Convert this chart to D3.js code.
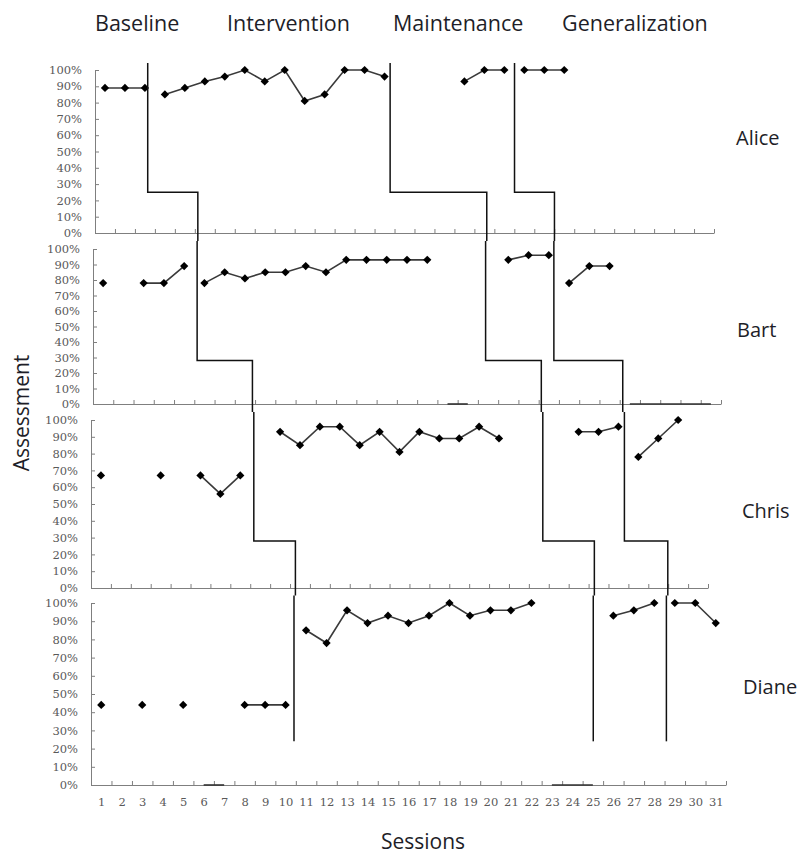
<!DOCTYPE html>
<html>
<head>
<meta charset="utf-8">
<script src="https://cdn.jsdelivr.net/npm/d3@7"></script>
<style>
  body { margin: 0; background: #fff; }
  text { font-family: "Open Sans", sans-serif; }
</style>
</head>
<body>
<svg id="chart" width="803" height="856"></svg>
<script>

// ---- data ----
const sessions = d3.range(1, 32)
const yTicks = d3.range(0, 101, 10)
const phaseNames = ["Baseline", "Intervention", "Maintenance", "Generalization"]
const students = ["Alice", "Bart", "Chris", "Diane"]

// first session of each phase, then the scores in that phase (null = no session)
const aliceStarts = [1, 4, 19, 22]
const aliceScores = [
  [89, 89, 89],
  [85, 89, 93, 96, 100, 93, 100, 81, 85, 100, 100, 96],
  [93, 100, 100],
  [100, 100, 100]
]
const bartStarts = [1, 6, 21, 24]
const bartScores = [
  [78, null, 78, 78, 89],
  [78, 85, 81, 85, 85, 89, 85, 93, 93, 93, 93, 93],
  [93, 96, 96],
  [78, 89, 89]
]
const chrisStarts = [1, 10, 25, 28]
const chrisScores = [
  [67, null, null, 67, null, 67, 56, 67],
  [93, 85, 96, 96, 85, 93, 81, 93, 89, 89, 96, 89],
  [93, 93, 96],
  [78, 89, 100]
]
const dianeStarts = [1, 11, 26, 29]
const dianeScores = [
  [44, null, 44, null, 44, null, null, 44, 44, 44],
  [85, 78, 96, 89, 93, 89, 93, 100, 93, 96, 96, 100],
  [93, 96, 100],
  [100, 100, 89]
]

// runs of sessions plotted at 0% (line only, no markers)
const aliceZeroRuns = []
const bartZeroRuns = [[18, 19], [27, 31]]
const chrisZeroRuns = []
const dianeZeroRuns = [[6, 7], [23, 25]]

// phase change lines: [session where line comes in, level %, session where it leaves]
const aliceSteps = [[3.14, 25, 5.65], [15.28, 25, 20.12], [21.51, 25, 23.51]]
const bartSteps = [[5.64, 28, 8.37], [19.88, 28, 22.63], [23.25, 28, 26.65]]
const chrisSteps = [[8.68, 28, 10.77], [23.2, 28, 25.79], [27.3, 28, 29.48]]
const dianeSteps = [[10.41, 24, null], [25.02, 24, null], [28.59, 24, null]]

const allStarts = [aliceStarts, bartStarts, chrisStarts, dianeStarts]
const allScores = [aliceScores, bartScores, chrisScores, dianeScores]
const allZeroRuns = [aliceZeroRuns, bartZeroRuns, chrisZeroRuns, dianeZeroRuns]
const allSteps = [aliceSteps, bartSteps, chrisSteps, dianeSteps]

// ---- layout ----
function getConfig() {
  let svg = d3.select("#chart")
  // pixel box of each panel: x range of the 31 sessions, y of 0% and 100%
  let panels = [
    { left: 95, right: 714, bottom: 233, top: 70 },
    { left: 93, right: 721, bottom: 404, top: 249 },
    { left: 91, right: 708, bottom: 588, top: 420 },
    { left: 91, right: 726, bottom: 785, top: 603 }
  ]
  let nameX = [736, 737, 742, 743]
  let nameY = [145, 337, 518, 694]
  let phaseX = [95, 227, 393, 562]
  return { svg, panels, nameX, nameY, phaseX }
}

function getScales(p) {
  let x = d3.scaleLinear().domain([0.5, 31.5]).range([p.left, p.right])
  let y = d3.scaleLinear().domain([0, 100]).range([p.bottom, p.top])
  return { x, y }
}

function styleTickText(sel) {
  sel.selectAll("text")
    .style("font-family", "'DejaVu Serif', serif")
    .style("font-size", "11.5px")
    .attr("fill", "#595959")
}

function drawAxes(g, scales, showLabels) {
  let { x, y } = scales
  let yAxis = g.append("g")
    .attr("transform", `translate(${x(0.5)},0)`)
    .call(d3.axisLeft(y).tickValues(yTicks).tickFormat(d => d + "%")
      .tickSizeInner(-4).tickSizeOuter(0).tickPadding(13))
  let xAxis = g.append("g")
    .attr("transform", `translate(0,${y(0)})`)
    .call(d3.axisBottom(x).tickValues(d3.range(0.5, 32, 1)).tickFormat("")
      .tickSizeInner(-4).tickSizeOuter(0))
  ;[yAxis, xAxis].forEach(a => {
    a.select(".domain").attr("stroke", "#7f7f7f")
    a.selectAll(".tick line").attr("stroke", "#7f7f7f")
    styleTickText(a)
  })
  if (showLabels) {
    let lab = g.append("g")
      .attr("transform", `translate(0,${y(0)})`)
      .call(d3.axisBottom(x).tickValues(sessions).tickSize(0).tickPadding(13))
    lab.select(".domain").remove()
    styleTickText(lab)
  }
}

function drawSeries(g, scales, starts, scores, zeroRuns) {
  let { x, y } = scales
  let line = d3.line()
    .defined(d => d.v != null)
    .x(d => x(d.s))
    .y(d => y(d.v))

  zeroRuns.forEach(r => {
    let pts = d3.range(r[0], r[1] + 1).map(s => ({ s, v: 0 }))
    g.append("path").datum(pts)
      .attr("d", line).attr("fill", "none")
      .attr("stroke", "#333").attr("stroke-width", 1.6)
  })

  scores.forEach((vals, i) => {
    let pts = vals.map((v, j) => ({ s: starts[i] + j, v }))
    g.append("path").datum(pts)
      .attr("d", line).attr("fill", "none")
      .attr("stroke", "#3a3a3a").attr("stroke-width", 1.6)
    g.selectAll(null)
      .data(pts.filter(d => d.v != null))
      .enter().append("path")
      .attr("d", d3.symbol(d3.symbolSquare, 34))
      .attr("transform", d => `translate(${x(d.s)},${y(d.v)}) rotate(45)`)
      .attr("fill", "#000")
  })
}

function drawSteps(config) {
  let { svg, panels } = config
  let g = svg.append("g")
  panels.forEach((p, i) => {
    let { x, y } = getScales(p)
    let next = panels[i + 1]
    let top = i === 0 ? y(104.3) : (panels[i - 1].bottom + p.top) / 2
    let bottom = next ? (p.bottom + next.top) / 2 : null
    allSteps[i].forEach(st => {
      let path = d3.path()
      path.moveTo(x(st[0]), top)
      path.lineTo(x(st[0]), y(st[1]))
      if (st[2] != null) {
        path.lineTo(x(st[2]), y(st[1]))
        path.lineTo(x(st[2]), bottom)
      }
      g.append("path").attr("d", path.toString())
        .attr("fill", "none").attr("stroke", "#111").attr("stroke-width", 1.5)
    })
  })
}

function drawTexts(config) {
  let { svg, nameX, nameY, phaseX } = config
  svg.selectAll(".phase").data(phaseNames).enter().append("text")
    .attr("class", "phase")
    .attr("x", (d, i) => phaseX[i]).attr("y", 31)
    .style("font-size", "21.5px").attr("fill", "#1e1e28")
    .text(d => d)
  svg.selectAll(".name").data(students).enter().append("text")
    .attr("class", "name")
    .attr("x", (d, i) => nameX[i]).attr("y", (d, i) => nameY[i])
    .style("font-size", "20px").attr("fill", "#1e1e28")
    .text(d => d)
  svg.append("text")
    .attr("x", 423).attr("y", 849).attr("text-anchor", "middle")
    .style("font-size", "21px").attr("fill", "#1e1e28")
    .text("Sessions")
  svg.append("text")
    .attr("transform", "translate(29,413) rotate(-90)")
    .attr("text-anchor", "middle")
    .style("font-size", "21px").attr("fill", "#1e1e28")
    .text("Assessment")
}

function showChart() {
  let config = getConfig()
  config.panels.forEach((p, i) => {
    let scales = getScales(p)
    let g = config.svg.append("g")
    drawAxes(g, scales, i === config.panels.length - 1)
    drawSeries(g, scales, allStarts[i], allScores[i], allZeroRuns[i])
  })
  drawSteps(config)
  drawTexts(config)
}

showChart()
</script>
</body>
</html>
